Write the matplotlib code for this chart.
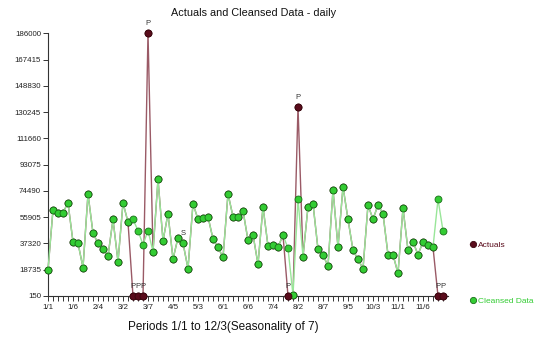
import matplotlib
matplotlib.use("Agg")
import matplotlib.pyplot as plt

plt.rcParams['font.family'] = ['Liberation Sans', 'DejaVu Sans']

# cleansed series, one value per period (80 periods, 1/1 .. 12/3)
cleansed = [18700, 61200, 59200, 59200, 66000, 38400, 37500, 20300, 72400, 44600,
            37500, 33400, 28450, 54400, 24450, 66000, 52500, 54400, 46400, 36450,
            46400, 31500, 82700, 39300, 58400, 26300, 41400, 37650, 19500, 65450,
            54400, 55350, 56250, 40500, 34600, 27500, 72500, 56250, 56250, 60500,
            39550, 43500, 22600, 63300, 35500, 36200, 34600, 43300, 33900, 850,
            68600, 27950, 63300, 65450, 33200, 29150, 21400, 75350, 34600, 77500,
            54400, 32500, 26100, 19500, 64550, 54400, 64550, 58400, 29350, 29350,
            16200, 62400, 32500, 38550, 29350, 38550, 36450, 34600, 68550, 46350]

# actuals differ from cleansed only at the flagged periods
outliers = {17: 150, 18: 150, 19: 150, 20: 186000, 48: 150, 50: 134000, 78: 150, 79: 150}
actuals = list(cleansed)
for k, v in outliers.items():
    actuals[k] = v

flag_S = [27]

xtick_pos = [0, 5, 10, 15, 20, 25, 30, 35, 40, 45, 50, 55, 60, 65, 70, 75]
xtick_labels = ['1/1', '1/6', '2/4', '3/2', '3/7', '4/5', '5/3', '6/1', '6/6', '7/4',
                '8/2', '8/7', '9/5', '10/3', '11/1', '11/6']
ytick_vals = [150, 18735, 37320, 55905, 74490, 93075, 111660, 130245, 148830, 167415, 186000]

W, H = 540, 338
fig = plt.figure(figsize=(W / 100, H / 100), dpi=100)
ax = fig.add_axes([48 / W, 1 - 296 / H, 400 / W, (296 - 33.3) / H])

x = list(range(len(cleansed)))
act_col = '#5a0c1c'
green = '#33cc33'

h_act, = ax.plot(x, actuals, color='#9a5a66', lw=1, marker='o', ms=5,
                 mfc=act_col, mec='#3a0810', mew=0.6, clip_on=False, zorder=2)
ax.plot(x, cleansed, color='#99e699', lw=1, zorder=3, clip_on=False)
h_cl, = ax.plot(x, cleansed, ls='none', marker='o', ms=5, mfc=green,
                mec='#1a6e1a', mew=0.6, clip_on=False, zorder=4)
# redraw outlier actual markers on top
ax.plot(list(outliers.keys()), list(outliers.values()), ls='none', marker='o', ms=5,
        mfc=act_col, mec='#3a0810', mew=0.6, clip_on=False, zorder=5)

for k, v in outliers.items():
    ax.annotate('P', (k, v), xytext=(0, 4.5), textcoords='offset points',
                ha='center', va='bottom', fontsize=5.5, color='#333333')
for k in flag_S:
    ax.annotate('S', (k, actuals[k]), xytext=(0, 4.5), textcoords='offset points',
                ha='center', va='bottom', fontsize=5.5, color='#333333')

ax.set_xlim(0, 80)
ax.set_ylim(150, 186000)
ax.set_xticks(xtick_pos)
ax.set_xticklabels(xtick_labels)
ax.set_xticks(range(len(cleansed)), minor=True)
ax.set_yticks(ytick_vals)
ax.set_yticklabels([str(v) for v in ytick_vals])
ax.tick_params(axis='both', which='both', labelsize=5.7, length=3.5, width=0.7,
               color='#333333', labelcolor='#222222', pad=1.5)
ax.tick_params(axis='x', which='major', pad=2)

for s in ['top', 'right']:
    ax.spines[s].set_visible(False)
for s in ['left', 'bottom']:
    ax.spines[s].set_color('#333333')
    ax.spines[s].set_linewidth(0.8)

fig.text(254 / W, 1 - 13 / H, 'Actuals and Cleansed Data - daily', ha='center',
         va='center', fontsize=7.8, color='#111111')
fig.text(223 / W, 1 - 327 / H, 'Periods 1/1 to 12/3(Seasonality of 7)', ha='center',
         va='center', fontsize=8.5, color='#111111')

fig.legend([h_act], ['Actuals'], loc='center left', bbox_to_anchor=(470 / W, 1 - 245 / H),
           frameon=False, fontsize=6, labelcolor=act_col, handlelength=0.6,
           handletextpad=0.4, borderpad=0, borderaxespad=0, markerscale=0.9)
fig.legend([h_cl], ['Cleansed Data'], loc='center left', bbox_to_anchor=(470 / W, 1 - 301.5 / H),
           frameon=False, fontsize=6, labelcolor=green, handlelength=0.6,
           handletextpad=0.4, borderpad=0, borderaxespad=0, markerscale=0.9)

fig.savefig('out.png', dpi=100)
